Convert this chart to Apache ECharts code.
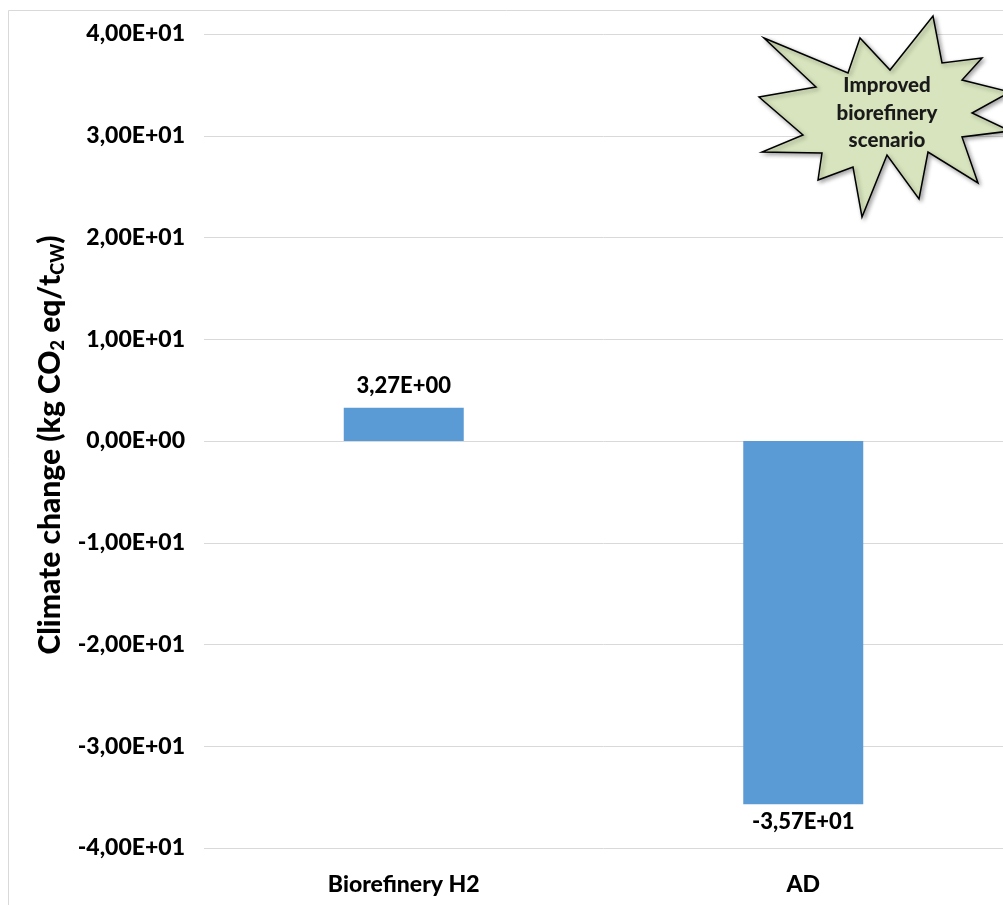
<!DOCTYPE html>
<html>
<head>
<meta charset="utf-8">
<style>
  html, body { margin: 0; padding: 0; background: #ffffff; }
  #chart { width: 1003px; height: 905px; }
</style>
<script src="https://cdn.jsdelivr.net/npm/echarts@6/dist/echarts.min.js"></script>
</head>
<body>
<div id="chart"></div>
<script>
// Climate change impact per scenario (kg CO2 eq / t CW)
const categories = ['Biorefinery H2', 'AD'];
const climateChange = [3.27, -35.7];
const yTicks = { min: -40, max: 40, step: 10 };
const calloutLines = ['Improved', 'biorefinery', 'scenario'];

const FONT = 'Lato';
const WEIGHT = 900;

// Excel-style scientific notation with a decimal comma: 3,27E+00
function sci(v) {
  if (v === 0) return '0,00E+00';
  let e = Math.floor(Math.log10(Math.abs(v)));
  let m = v / Math.pow(10, e);
  if (Math.abs(Number(m.toFixed(2))) >= 10) { e += 1; m = v / Math.pow(10, e); }
  const ae = Math.abs(e);
  return m.toFixed(2).replace('.', ',') + 'E' + (e < 0 ? '-' : '+') + (ae < 10 ? '0' + ae : String(ae));
}

// Explosion-shaped callout outline
const starPoints = [
  [764, 38], [848, 73], [860, 38], [890, 70], [933, 16], [942, 63],
  [982, 58], [962, 80], [1010, 92], [972, 113], [1010, 131], [962, 137],
  [978, 183], [928, 152], [919, 199], [887, 155], [862, 217], [853, 167],
  [818, 180], [822, 153], [762, 152], [803, 135], [759, 97], [816, 87]
];

const chart = echarts.init(document.getElementById('chart'), null, { renderer: 'canvas' });

chart.setOption({
  backgroundColor: '#ffffff',
  animation: false,
  grid: { left: 204, top: 34, right: -6, bottom: 57, containLabel: false },
  xAxis: {
    type: 'category',
    data: categories,
    position: 'bottom',
    axisLine: { show: false, onZero: false },
    axisTick: { show: false },
    axisLabel: {
      margin: 25,
      fontFamily: FONT, fontWeight: WEIGHT, fontSize: 23, color: '#000000'
    },
    splitLine: { show: false }
  },
  yAxis: {
    type: 'value',
    min: yTicks.min,
    max: yTicks.max,
    interval: yTicks.step,
    axisLine: { show: false },
    axisTick: { show: false },
    axisLabel: {
      margin: 19,
      formatter: sci,
      fontFamily: FONT, fontWeight: WEIGHT, fontSize: 23, color: '#000000'
    },
    splitLine: { lineStyle: { color: '#d9d9d9', width: 1 } }
  },
  series: [{
    type: 'bar',
    barWidth: 120,
    data: climateChange.map(v => ({
      value: v,
      label: { position: v >= 0 ? 'top' : 'bottom', distance: v >= 0 ? 11 : 7 }
    })),
    itemStyle: { color: '#5b9bd5' },
    label: {
      show: true,
      formatter: p => sci(p.value),
      fontFamily: FONT, fontWeight: WEIGHT, fontSize: 22, color: '#000000'
    }
  }],
  graphic: [
    {
      type: 'rect', z: -10, silent: true,
      shape: { x: 8.5, y: 10.5, width: 1200, height: 1200 },
      style: { fill: 'none', stroke: '#d9d9d9', lineWidth: 1 }
    },
    {
      type: 'text', silent: true,
      x: 50, y: 445, rotation: Math.PI / 2,
      style: {
        text: '{a|Climate change (kg CO}{s|2}{a| eq/t}{s|CW}{a|)}',
        align: 'center', verticalAlign: 'middle',
        rich: {
          a: { fontFamily: FONT, fontWeight: WEIGHT, fontSize: 30, lineHeight: 34, fill: '#000000', verticalAlign: 'middle' },
          s: { fontFamily: FONT, fontWeight: WEIGHT, fontSize: 18, lineHeight: 17, fill: '#000000', verticalAlign: 'bottom' }
        }
      }
    },
    {
      type: 'polygon', silent: true, z: 50,
      shape: { points: starPoints },
      style: {
        fill: '#d7e4bd', stroke: '#000000', lineWidth: 1.5,
        shadowBlur: 4, shadowOffsetX: 2, shadowOffsetY: 2, shadowColor: 'rgba(0,0,0,0.35)'
      }
    },
    {
      type: 'text', silent: true, z: 51,
      x: 887, y: 113,
      style: {
        text: calloutLines.join('\n'),
        align: 'center', verticalAlign: 'middle',
        fontFamily: FONT, fontWeight: WEIGHT, fontSize: 20.5, lineHeight: 27.5, fill: '#1a1a1a'
      }
    }
  ]
});
</script>
</body>
</html>
